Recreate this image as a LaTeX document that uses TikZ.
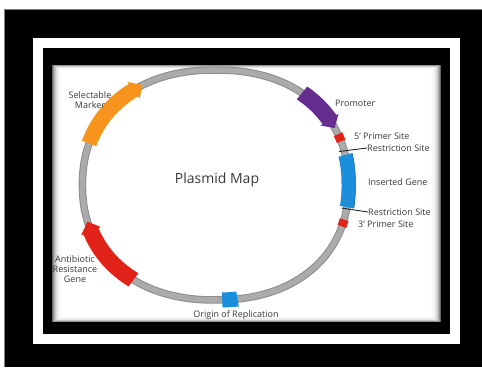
\documentclass[tikz,border=0pt]{standalone}
\usepackage{fontspec}
\setmainfont{Open Sans}
\definecolor{orangeC}{HTML}{F7941E}
\definecolor{purpleC}{HTML}{662D91}
\definecolor{redC}{HTML}{E2231A}
\definecolor{blueC}{HTML}{1B8FDC}
\definecolor{blueD}{HTML}{0E5C9E}
\definecolor{tubeC}{HTML}{ABABAB}
\definecolor{tubeD}{HTML}{8C8C8C}
\definecolor{txtC}{HTML}{3A3A3A}
% slightly squared ellipse (superellipse, exponent 2.2) backbone
\newcommand\EX[2]{215.5+(133+(#2))*sign(cos(#1))*exp(0.909*ln(abs(cos(#1))+0.0001))}
\newcommand\EY[2]{182+(115+(#2))*sign(sin(#1))*exp(0.909*ln(abs(sin(#1))+0.0001))}
% band along backbone: #1 start, #2 end, #3 half width, #4 style
\newcommand\band[4]{\fill[#4] plot[domain=#1:#2,samples=20] ({\EX{\x}{#3}},{\EY{\x}{#3}}) -- plot[domain=#2:#1,samples=20] ({\EX{\x}{-#3}},{\EY{\x}{-#3}}) -- cycle;}
% arrow band, head at #2 (clockwise)
\newcommand\arrowband[4]{\fill[#4] plot[domain=#1:#2,samples=30] ({\EX{\x}{#3}},{\EY{\x}{#3}}) -- ({\EX{#2}{#3+2.5}},{\EY{#2}{#3+2.5}}) -- ({\EX{#2-5}{0}},{\EY{#2-5}{0}}) -- ({\EX{#2}{-#3-2.5}},{\EY{#2}{-#3-2.5}}) -- plot[domain=#2:#1,samples=30] ({\EX{\x}{-#3}},{\EY{\x}{-#3}}) -- cycle;}
\tikzset{
  lbl/.style={font=\fontsize{9}{10}\selectfont, text=txtC, inner sep=0pt},
  lblc/.style={lbl, align=center},
  leader/.style={draw=black!85, line width=0.9pt},
  tubeO/.style={draw=tubeD, line width=7.5pt},
  tubeI/.style={draw=tubeC, line width=5.5pt},
}
\begin{document}
\begin{tikzpicture}[x=1pt,y=1pt]
\useasboundingbox (0,0) rectangle (482,367);
\fill[white] (0,0) rectangle (482,367);
% outer frame
\fill[black] (4,0) rectangle (482,358);
\draw[gray, line width=0.6pt] (4,0) -- (4,358) -- (482,358);
\fill[white] (33,23) rectangle (460,329);
\fill[black] (43,33) rectangle (450,319);
% picture with soft shadowed edges
\foreach \i/\c in {0/60,1/42,2/30,3/21,4/14,5/9,6/6,7/4,8/2,9/1,10/0}{
  \fill[black!\c] (52+\i,45+0.5*\i) rectangle (441-\i,302-0.5*\i);
}
% plasmid backbone
\draw[tubeO] plot[domain=0:360,samples=150] ({\EX{\x}{0}},{\EY{\x}{0}}) -- cycle;
\draw[tubeI] plot[domain=0:360,samples=150] ({\EX{\x}{0}},{\EY{\x}{0}}) -- cycle;
% features
\arrowband{161}{126}{7.5}{orangeC}
\arrowband{51.5}{32.5}{8}{purpleC}
\arrowband{234}{201.5}{8}{redC}
\band{13.2}{-9.3}{7}{blueC}
\draw[blueD, line width=0.5pt] plot[domain=13.2:-9.3,samples=20] ({\EX{\x}{7}},{\EY{\x}{7}});
\band{277.8}{272.1}{7.5}{blueC}
\band{24}{20.2}{4.5}{redC}
\band{-15.5}{-19}{4.5}{redC}
% restriction sites
\coordinate (rs1) at ({\EX{15.7}{-5}},{\EY{15.7}{-5}});
\coordinate (rs2) at ({\EX{-10.3}{-5}},{\EY{-10.3}{-5}});
% labels
\node[lbl, anchor=west] (promL) at (335,264) {Promoter};
\node[lbl, anchor=west] (p5L) at (354,231) {5' Primer Site};
\node[lbl, anchor=west] (rs1L) at (367,219) {Restriction Site};
\node[lbl, anchor=west] (insL) at (368,185) {Inserted Gene};
\node[lbl, anchor=west] (rs2L) at (368,155) {Restriction Site};
\node[lbl, anchor=west] (p3L) at (358,143) {3' Primer Site};
\node[lblc] (selL) at (90,267) {Selectable\\Marker};
\node[lblc] (antL) at (75,98) {Antibiotic\\Resistance\\Gene};
\node[lbl] (oriL) at (236,52) {Origin of Replication};
\node[font=\fontsize{14}{16}\selectfont, text=txtC, inner sep=0pt] (title) at (217,187) {Plasmid Map};
\draw[leader] (rs1) -- (rs1L.west);
\draw[leader] (rs2) -- (rs2L.west);
\end{tikzpicture}
\end{document}
